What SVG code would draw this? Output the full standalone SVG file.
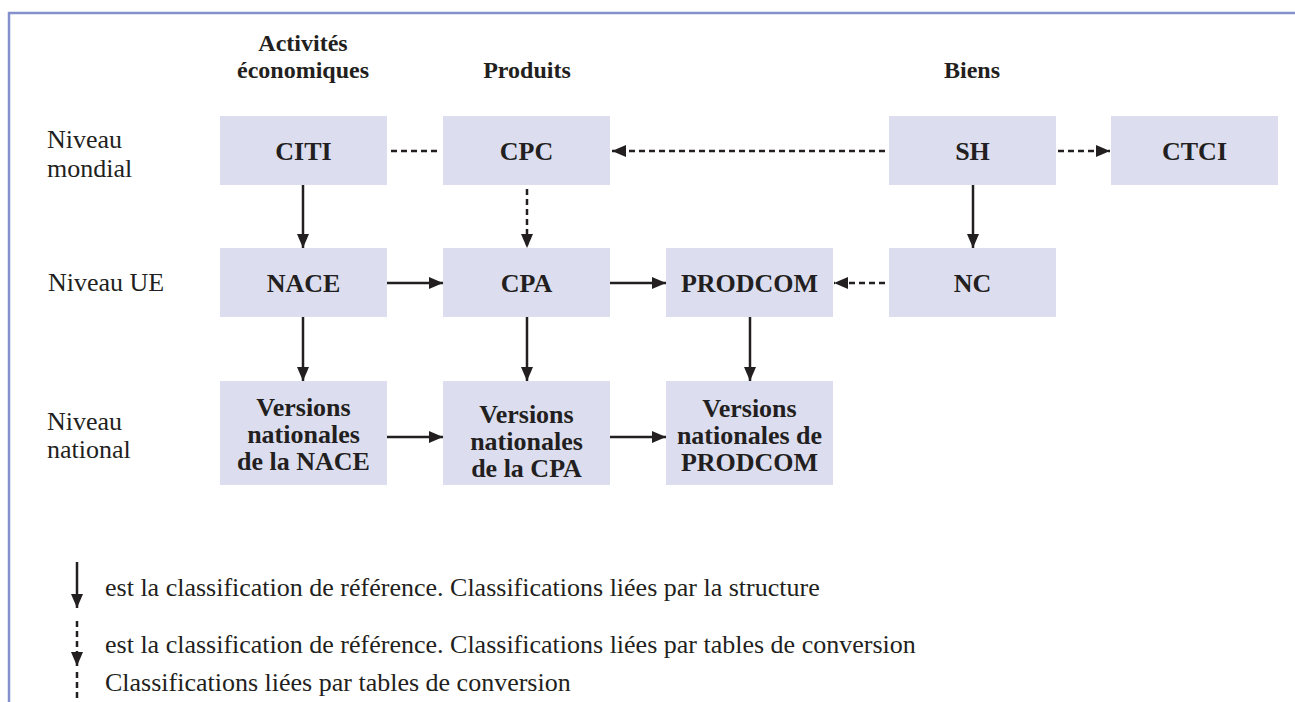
<svg xmlns="http://www.w3.org/2000/svg" width="1295" height="702" viewBox="0 0 1295 702">
  <defs>
    <marker id="ah" viewBox="0 0 14 12" refX="14" refY="6" markerWidth="14" markerHeight="12" markerUnits="userSpaceOnUse" orient="auto">
      <path d="M0,0 L14,6 L0,12 Z" fill="#231f20"/>
    </marker>
    <style>
      .frame { fill: none; stroke: #8591cc; stroke-width: 2.5; }
      .box { fill: #dcdef0; }
      .lbl { font-family: "Liberation Serif", "Times New Roman", serif; font-weight: bold; font-size: 26px; fill: #231f20; text-anchor: middle; }
      .hdr { font-family: "Liberation Serif", "Times New Roman", serif; font-weight: bold; font-size: 24px; fill: #231f20; text-anchor: middle; }
      .txt { font-family: "Liberation Serif", "Times New Roman", serif; font-size: 26px; fill: #231f20; }
      .solid { fill: none; stroke: #231f20; stroke-width: 2.5; }
      .dash { fill: none; stroke: #231f20; stroke-width: 2.5; stroke-dasharray: 6 4; }
    </style>
  </defs>

  <path class="frame" d="M9,702 V13 H1295"/>

  <g id="headers">
    <text class="hdr" x="303" y="51">Activités</text>
    <text class="hdr" x="303" y="78">économiques</text>
    <text class="hdr" x="527" y="78">Produits</text>
    <text class="hdr" x="972" y="78">Biens</text>
  </g>

  <g id="levels">
    <text class="txt" x="47" y="148">Niveau</text>
    <text class="txt" x="47" y="177">mondial</text>
    <text class="txt" x="48" y="291">Niveau UE</text>
    <text class="txt" x="47" y="430">Niveau</text>
    <text class="txt" x="47" y="458">national</text>
  </g>

  <g id="node-citi"><rect class="box" x="220" y="116" width="167" height="69"/><text class="lbl" x="303.5" y="160">CITI</text></g>
  <g id="node-cpc"><rect class="box" x="443" y="116" width="167" height="69"/><text class="lbl" x="526.5" y="160">CPC</text></g>
  <g id="node-sh"><rect class="box" x="889" y="116" width="167" height="69"/><text class="lbl" x="972.5" y="160">SH</text></g>
  <g id="node-ctci"><rect class="box" x="1111" y="116" width="167" height="69"/><text class="lbl" x="1194.5" y="160">CTCI</text></g>

  <g id="node-nace"><rect class="box" x="220" y="248" width="167" height="69"/><text class="lbl" x="303.5" y="292">NACE</text></g>
  <g id="node-cpa"><rect class="box" x="443" y="248" width="167" height="69"/><text class="lbl" x="526.5" y="292">CPA</text></g>
  <g id="node-prodcom"><rect class="box" x="666" y="248" width="167" height="69"/><text class="lbl" x="749.5" y="292">PRODCOM</text></g>
  <g id="node-nc"><rect class="box" x="889" y="248" width="167" height="69"/><text class="lbl" x="972.5" y="292">NC</text></g>

  <g id="node-vn-nace"><rect class="box" x="220" y="381" width="167" height="104"/>
    <text class="lbl" x="303.5" y="416">Versions</text>
    <text class="lbl" x="303.5" y="443">nationales</text>
    <text class="lbl" x="303.5" y="470">de la NACE</text></g>
  <g id="node-vn-cpa"><rect class="box" x="443" y="381" width="167" height="104"/>
    <text class="lbl" x="526.5" y="423">Versions</text>
    <text class="lbl" x="526.5" y="450">nationales</text>
    <text class="lbl" x="526.5" y="477">de la CPA</text></g>
  <g id="node-vn-prodcom"><rect class="box" x="666" y="381" width="167" height="104"/>
    <text class="lbl" x="749.5" y="417">Versions</text>
    <text class="lbl" x="749.5" y="444">nationales de</text>
    <text class="lbl" x="749.5" y="471">PRODCOM</text></g>

  <g id="connectors">
    <line class="dash" x1="391" y1="151" x2="440" y2="151"/>
    <line class="dash" x1="885" y1="151" x2="612" y2="151" marker-end="url(#ah)"/>
    <line class="dash" x1="1058" y1="151" x2="1110" y2="151" marker-end="url(#ah)"/>
    <line class="solid" x1="303" y1="185" x2="303" y2="248" marker-end="url(#ah)"/>
    <line class="dash" x1="527" y1="189" x2="527" y2="248" marker-end="url(#ah)"/>
    <line class="solid" x1="973" y1="185" x2="973" y2="248" marker-end="url(#ah)"/>
    <line class="solid" x1="387" y1="283" x2="443" y2="283" marker-end="url(#ah)"/>
    <line class="solid" x1="610" y1="283" x2="666" y2="283" marker-end="url(#ah)"/>
    <line class="dash" x1="885" y1="283" x2="834" y2="283" marker-end="url(#ah)"/>
    <line class="solid" x1="303" y1="317" x2="303" y2="381" marker-end="url(#ah)"/>
    <line class="solid" x1="527" y1="317" x2="527" y2="381" marker-end="url(#ah)"/>
    <line class="solid" x1="750" y1="317" x2="750" y2="381" marker-end="url(#ah)"/>
    <line class="solid" x1="387" y1="437" x2="443" y2="437" marker-end="url(#ah)"/>
    <line class="solid" x1="610" y1="437" x2="666" y2="437" marker-end="url(#ah)"/>
  </g>

  <g id="legend">
    <line class="solid" x1="77" y1="562" x2="77" y2="608" marker-end="url(#ah)"/>
    <text class="txt" x="105" y="596">est la classification de référence. Classifications liées par la structure</text>
    <line class="dash" x1="77" y1="621" x2="77" y2="666" marker-end="url(#ah)"/>
    <text class="txt" x="105" y="653">est la classification de référence. Classifications liées par tables de conversion</text>
    <line class="dash" x1="77" y1="672" x2="77" y2="702"/>
    <text class="txt" x="105" y="691">Classifications liées par tables de conversion</text>
  </g>
</svg>
